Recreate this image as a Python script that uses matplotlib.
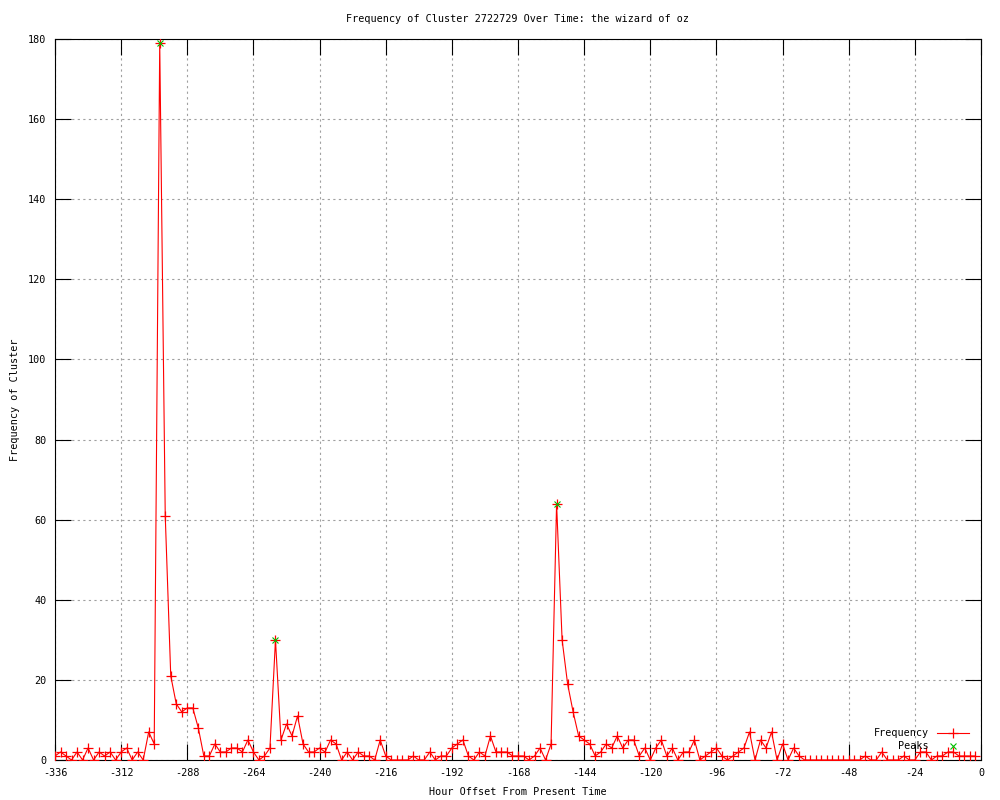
import matplotlib
matplotlib.use('Agg')
import matplotlib.pyplot as plt

# hourly offsets (every 2 hours) and the cluster frequency at each
hours = list(range(-336, 0, 2))
frequency = [
    1, 2, 1, 0, 2, 0, 3, 0, 2, 1, 2, 0,
    2, 3, 0, 2, 0, 7, 4, 179, 61, 21, 14, 12,
    13, 13, 8, 1, 1, 4, 2, 2, 3, 3, 2, 5,
    2, 0, 1, 3, 30, 5, 9, 6, 11, 4, 2, 2,
    3, 2, 5, 4, 0, 2, 0, 2, 1, 1, 0, 5,
    1, 0, 0, 0, 0, 1, 0, 0, 2, 0, 1, 1,
    3, 4, 5, 1, 0, 2, 1, 6, 2, 2, 2, 1,
    1, 1, 0, 1, 3, 0, 4, 64, 30, 19, 12, 6,
    5, 4, 1, 2, 4, 3, 6, 3, 5, 5, 1, 3,
    0, 3, 5, 1, 3, 0, 2, 2, 5, 0, 1, 2,
    3, 1, 0, 1, 2, 3, 7, 0, 5, 3, 7, 0,
    4, 0, 3, 1, 0, 0, 0, 0, 0, 0, 0, 0,
    0, 0, 0, 1, 0, 0, 2, 0, 0, 0, 1, 0,
    0, 2, 2, 0, 1, 1, 2, 2, 1, 1, 1, 1,
]
peak_hours = [-298, -256, -154]
peak_values = [179, 30, 64]

x_ticks = list(range(-336, 1, 24))
y_ticks = list(range(0, 181, 20))

plt.rcParams['font.family'] = 'DejaVu Sans Mono'
fs = 7.3

fig = plt.figure(figsize=(10, 8), dpi=100)
ax = fig.add_axes([0.055, 0.05, 0.926, 0.90125])

ax.plot(hours, frequency, color='#ff0000', linewidth=0.8, marker='+',
        markersize=6.5, markeredgewidth=0.9, label='Frequency', zorder=3)
ax.plot(peak_hours, peak_values, linestyle='none', color='#00c000', marker='x',
        markersize=5, markeredgewidth=0.8, label='Peaks', zorder=4)

ax.set_xlim(-336, 0)
ax.set_ylim(0, 180)
ax.set_xticks(x_ticks)
ax.set_yticks(y_ticks)
ax.set_xticklabels([str(t) for t in x_ticks], fontsize=fs)
ax.set_yticklabels([str(t) for t in y_ticks], fontsize=fs)
ax.tick_params(direction='in', length=11.5, width=0.8, top=True, right=True,
               pad=6, colors='black')

ax.grid(True, color='#a0a0a0', linestyle=(0, (2, 3)), linewidth=0.8)
for s in ax.spines.values():
    s.set_linewidth(0.8)
    s.set_color('black')

ax.set_title('Frequency of Cluster 2722729 Over Time: the wizard of oz',
             fontsize=fs, pad=12)
ax.set_xlabel('Hour Offset From Present Time', fontsize=fs, labelpad=6)
ax.set_ylabel('Frequency of Cluster', fontsize=fs, labelpad=6)

ax.legend(loc='lower right', bbox_to_anchor=(0.995, 0.002), frameon=False,
          markerfirst=False, fontsize=fs, handlelength=3.2, handletextpad=0.8,
          labelspacing=0.3, borderpad=0.2)

fig.savefig('out.png', dpi=100)
